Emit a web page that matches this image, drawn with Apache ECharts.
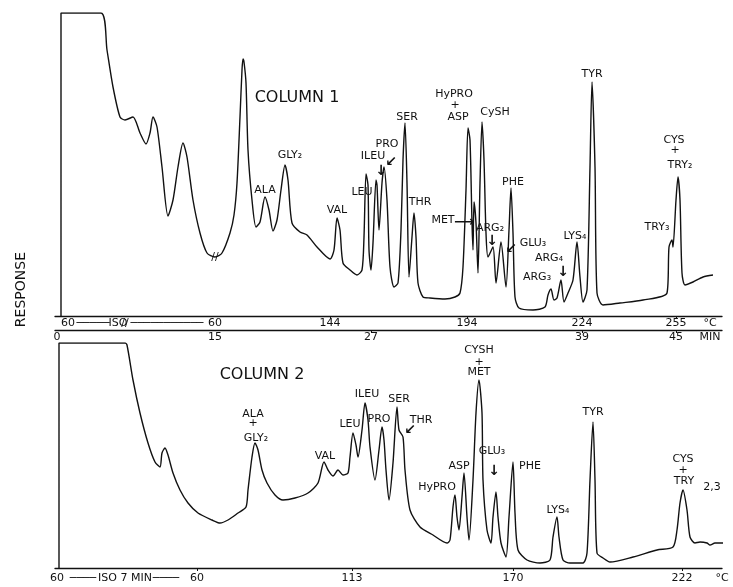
<!DOCTYPE html>
<html>
<head>
<meta charset="utf-8">
<script src="https://cdn.jsdelivr.net/npm/echarts@6/dist/echarts.min.js"></script>
<style>
  html, body { margin: 0; padding: 0; background: #fff; }
  #chart { width: 733px; height: 587px; }
</style>
</head>
<body>
<div id="chart"></div>
<script>
// retention position (arbitrary units along the recorder chart) and detector response
const col1Time = [1, 1, 41, 47, 53, 60, 65, 73, 80, 86, 90, 93, 97, 102, 108, 113, 118, 123, 127, 133, 140, 147, 155, 162, 170, 174, 177, 180, 182, 183, 184, 186, 188, 192, 196, 200, 205, 209, 213, 217, 221, 225, 228, 232, 240, 247, 257, 270, 274, 277, 280, 283, 290, 297, 302, 304, 306, 308, 309, 311, 313, 316, 317, 319, 322, 324, 327, 330, 334, 338, 341, 343, 345, 347, 349, 352, 354, 356, 358, 363, 370, 385, 395, 400, 403, 406, 408, 410, 412, 413, 414, 416, 418, 420, 422, 424, 426, 428, 433, 436, 441, 446, 449, 451, 453, 455, 459, 473, 485, 488, 491, 494, 497, 501, 504, 508, 513, 517, 520, 523, 527, 530, 532, 535, 537, 543, 560, 583, 607, 609, 612, 613, 616, 618, 620, 622, 625, 633, 643, 653];
const col1Resp = [0, 303, 303, 266, 229, 199, 196, 199, 183, 172, 183, 199, 189, 149, 100, 116, 149, 173, 159, 116, 83, 63, 59, 63, 83, 101, 133, 199, 246, 257, 254, 233, 166, 116, 89, 94, 119, 106, 85, 96, 126, 151, 136, 93, 84, 81, 69, 57, 66, 98, 86, 53, 46, 41, 46, 79, 142, 131, 66, 46, 73, 136, 131, 86, 133, 149, 116, 49, 29, 33, 86, 156, 193, 133, 39, 79, 103, 79, 33, 19, 18, 17, 19, 23, 49, 126, 188, 176, 93, 66, 114, 93, 43, 133, 194, 156, 83, 59, 69, 33, 74, 29, 86, 128, 83, 19, 8, 6, 9, 21, 27, 16, 18, 36, 14, 23, 36, 74, 39, 14, 26, 149, 234, 149, 23, 11, 13, 16, 23, 69, 76, 69, 116, 139, 116, 43, 31, 34, 39, 41];

const col2Time = [-1, -1, 65, 67, 73, 80, 88, 95, 100, 102, 105, 108, 113, 120, 128, 138, 152, 160, 168, 178, 186, 188, 192, 195, 198, 202, 207, 215, 223, 235, 248, 258, 264, 268, 273, 278, 283, 288, 290, 293, 296, 298, 302, 305, 308, 310, 315, 319, 322, 324, 326, 329, 333, 337, 339, 343, 345, 350, 360, 373, 387, 390, 393, 395, 397, 399, 402, 404, 407, 409, 413, 416, 419, 422, 423, 427, 431, 433, 436, 438, 441, 446, 449, 453, 455, 458, 467, 480, 490, 493, 497, 499, 503, 510, 523, 527, 530, 533, 535, 537, 543, 550, 573, 597, 613, 617, 620, 623, 627, 630, 635, 640, 647, 650, 655, 663];
const col2Resp = [0, 225, 225, 223, 188, 155, 125, 106, 101, 115, 120, 113, 95, 78, 65, 55, 48, 45, 48, 55, 61, 78, 111, 125, 118, 98, 85, 73, 68, 70, 75, 85, 106, 98, 92, 98, 93, 95, 111, 135, 123, 111, 138, 165, 148, 121, 88, 118, 141, 128, 98, 68, 105, 161, 138, 131, 98, 58, 41, 33, 25, 28, 61, 73, 51, 38, 71, 95, 51, 28, 88, 155, 188, 155, 88, 38, 25, 51, 76, 51, 25, 11, 51, 106, 55, 18, 8, 5, 8, 31, 51, 31, 8, 5, 5, 15, 88, 146, 88, 15, 10, 6, 11, 18, 21, 38, 65, 78, 58, 31, 25, 26, 25, 23, 25, 25];

// peak names: [position, response, text]
const col1Peaks = [
  [237, 218, 'COLUMN 1'], [205, 126, 'ALA'], [230, 161, 'GLY₂'], [277, 106, 'VAL'],
  [302, 124, 'LEU'], [313, 160, 'ILEU'], [327, 172, 'PRO'], [347, 199, 'SER'],
  [360, 114, 'THR'], [394, 222, 'HyPRO'], [395, 211, '+'], [398, 199, 'ASP'],
  [435, 204, 'CySH'], [383, 96, 'MET'], [430, 88, 'ARG₂'], [473, 73, 'GLU₃'],
  [453, 134, 'PHE'], [489, 58, 'ARG₄'], [477, 39, 'ARG₃'], [515, 80, 'LYS₄'],
  [532, 242, 'TYR'], [614, 176, 'CYS'], [615, 166, '+'], [620, 151, 'TRY₂'],
  [597, 89, 'TRY₃'], [155, 59, '//'], [65, -7, '//']
];
const col1Arrows = [
  [321, 145, '↓'], [331, 154, '↙'], [404, 94, '⟶'], [432, 75, '↓'], [451, 67, '↙'], [503, 44, '↓']
];
const col2Peaks = [
  [202, 193, 'COLUMN 2'], [193, 154, 'ALA'], [193, 145, '+'], [196, 130, 'GLY₂'],
  [265, 112, 'VAL'], [290, 144, 'LEU'], [307, 174, 'ILEU'], [319, 149, 'PRO'],
  [339, 169, 'SER'], [361, 148, 'THR'], [377, 81, 'HyPRO'], [399, 102, 'ASP'],
  [419, 218, 'CYSH'], [419, 206, '+'], [419, 196, 'MET'], [432, 117, 'GLU₃'],
  [470, 102, 'PHE'], [498, 58, 'LYS₄'], [533, 156, 'TYR'], [623, 109, 'CYS'],
  [623, 98, '+'], [624, 87, 'TRY'], [652, 81, '2,3']
];
const col2Arrows = [[350, 138, '↙'], [434, 97, '↓']];

// axis tick labels
const tempPos1 = [8, 33, 58, 107, 155, 270, 407, 522, 616, 650];
const tempText1 = ['60', '─────', 'ISO', '───────────', '60', '144', '194', '224', '255', '°C'];
const tempTicks1 = [270, 407, 522, 616];
const minPos = [-3, 155, 311, 522, 616, 650];
const minText = ['0', '15', '27', '39', '45', 'MIN'];
const minTicks = [311, 522, 616];
const tempPos2 = [-3, 23, 65, 106, 137, 292, 453, 622, 662];
const tempText2 = ['60', '────', 'ISO 7 MIN', '────', '60', '113', '170', '222', '°C'];
const tempTicks2 = [137, 292, 453, 622];

const ink = '#111';
const font = 'DejaVu Sans';

function zip(a, b) {
  return a.map((v, i) => [v, b[i]]);
}
function labelData(list, size, bold) {
  return list.map(p => ({
    value: [p[0], p[1]],
    name: p[2],
    label: {
      fontSize: p[2].indexOf('COLUMN') === 0 ? 16 : size,
      fontWeight: bold ? 'bold' : 'normal'
    }
  }));
}
function xAxisFor(grid, pos, text, ticks, offset, margin) {
  return {
    type: 'value', gridIndex: grid, min: -5, max: 662, position: 'bottom', offset: offset,
    splitLine: { show: false },
    axisLine: { show: true, lineStyle: { color: ink, width: 1.3 } },
    axisTick: { show: true, customValues: ticks, length: 3, lineStyle: { color: ink } },
    axisLabel: {
      customValues: pos, margin: margin, color: ink, fontSize: 11, fontFamily: font,
      showMinLabel: true, showMaxLabel: true,
      formatter: v => text[pos.indexOf(v)] || ''
    }
  };
}
function textSeries(x, y, data) {
  return {
    type: 'scatter', xAxisIndex: x, yAxisIndex: y, symbolSize: 0, clip: false, silent: true,
    itemStyle: { opacity: 1 },
    data: data,
    label: { show: true, position: 'inside', formatter: '{b}', color: ink, opacity: 1, fontFamily: font }
  };
}

const chart = echarts.init(document.getElementById('chart'));
const option = {
  backgroundColor: '#fff',
  animation: false,
  grid: [
    { left: 55, right: 11, top: 13, height: 303 },
    { left: 55, right: 11, top: 343, height: 225 }
  ],
  xAxis: [
    xAxisFor(0, tempPos1, tempText1, tempTicks1, 0, 2),
    xAxisFor(0, minPos, minText, minTicks, 14, 2),
    xAxisFor(1, tempPos2, tempText2, tempTicks2, 0, 5)
  ],
  yAxis: [
    { type: 'value', gridIndex: 0, min: 0, max: 303, show: false },
    { type: 'value', gridIndex: 1, min: 0, max: 225, show: false }
  ],
  graphic: [{
    type: 'text', left: 14, top: 252, rotation: Math.PI / 2,
    style: { text: 'RESPONSE', fill: ink, fontSize: 14, fontFamily: font }
  }],
  series: [
    {
      type: 'line', xAxisIndex: 0, yAxisIndex: 0, data: zip(col1Time, col1Resp),
      showSymbol: false, smooth: 0.25, lineStyle: { color: ink, width: 1.4 }
    },
    {
      type: 'line', xAxisIndex: 2, yAxisIndex: 1, data: zip(col2Time, col2Resp),
      showSymbol: false, smooth: 0.25, lineStyle: { color: ink, width: 1.4 }
    },
    textSeries(0, 0, labelData(col1Peaks, 11, false)),
    textSeries(0, 0, labelData(col1Arrows, 14, true)),
    textSeries(2, 1, labelData(col2Peaks, 11, false)),
    textSeries(2, 1, labelData(col2Arrows, 14, true))
  ]
};
chart.setOption(option);
</script>
</body>
</html>
